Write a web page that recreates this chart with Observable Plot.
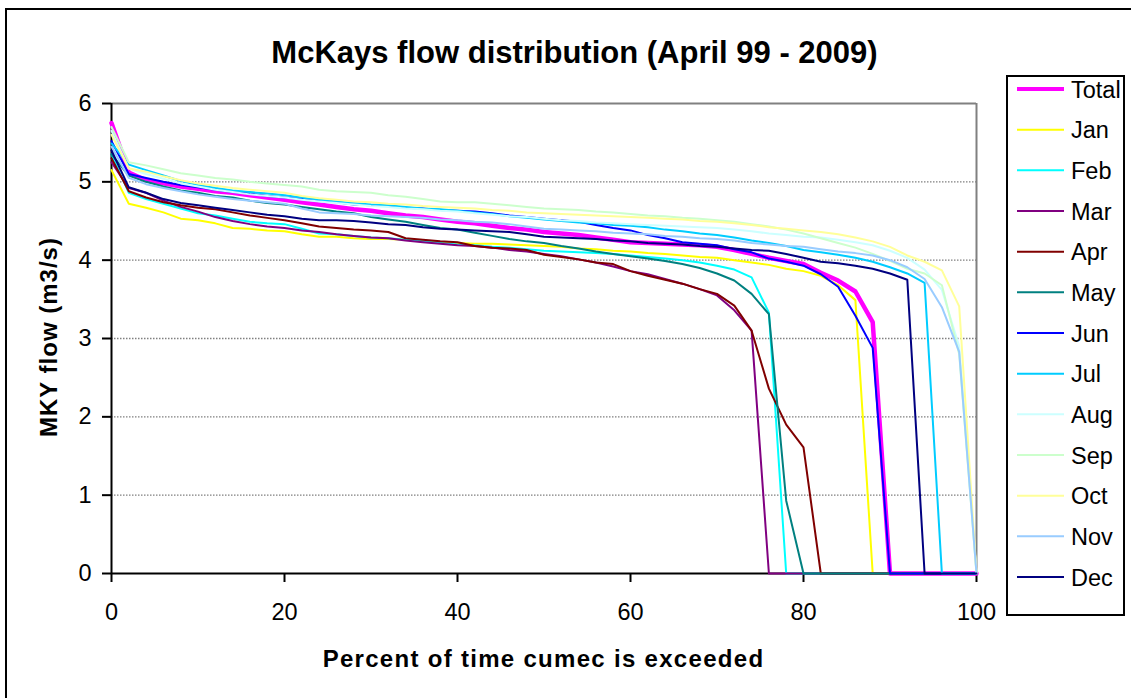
<!DOCTYPE html>
<html>
<head>
<meta charset="utf-8">
<script src="https://cdn.jsdelivr.net/npm/d3@7"></script>
<script src="https://cdn.jsdelivr.net/npm/@observablehq/plot@0.6"></script>
<style>
  html, body { margin: 0; padding: 0; background: #fff; }
  #chart { position: absolute; left: 0; top: 0; }
</style>
</head>
<body>
<div id="chart"></div>
<script>
// ---- data ----
const percent = [0,2,4,6,8,10,12,14,16,18,20,22,24,26,28,30,32,34,36,38,40,42,44,46,48,50,52,54,56,58,60,62,64,66,68,70,72,74,76,78,80,82,84,86,88,90,92,94,96,98,100];

const total = [5.75,5.12,5.02,4.98,4.94,4.91,4.88,4.86,4.83,4.80,4.77,4.74,4.71,4.68,4.65,4.63,4.60,4.57,4.55,4.52,4.49,4.47,4.44,4.41,4.39,4.36,4.34,4.32,4.29,4.26,4.23,4.22,4.21,4.20,4.19,4.17,4.13,4.08,4.03,3.99,3.95,3.84,3.74,3.60,3.21,0,0,0,0,0,0];
const jan = [5.15,4.72,4.67,4.61,4.53,4.51,4.47,4.41,4.40,4.38,4.37,4.33,4.30,4.30,4.28,4.27,4.27,4.26,4.24,4.23,4.22,4.21,4.21,4.20,4.19,4.18,4.17,4.15,4.14,4.12,4.11,4.09,4.08,4.06,4.04,4.03,4.00,3.97,3.94,3.89,3.86,3.80,3.68,3.49,0,0,0,0,0,0,0];
const feb = [5.35,4.86,4.78,4.72,4.66,4.60,4.57,4.53,4.49,4.47,4.46,4.40,4.34,4.33,4.31,4.29,4.28,4.26,4.24,4.22,4.20,4.19,4.17,4.16,4.14,4.12,4.11,4.10,4.09,4.08,4.06,4.04,4.02,4.00,3.97,3.93,3.88,3.78,3.33,0,0,0,0,0,0,0,0,0,0,0,0];
const mar = [5.25,4.92,4.86,4.76,4.68,4.62,4.55,4.50,4.46,4.43,4.41,4.38,4.36,4.33,4.31,4.29,4.28,4.25,4.23,4.21,4.19,4.18,4.16,4.13,4.11,4.08,4.05,4.01,3.97,3.92,3.86,3.82,3.76,3.70,3.63,3.55,3.36,3.10,0,0,0,0,0,0,0,0,0,0,0,0,0];
const apr = [5.30,4.88,4.80,4.74,4.70,4.67,4.65,4.61,4.57,4.54,4.51,4.47,4.43,4.41,4.39,4.38,4.36,4.28,4.26,4.24,4.23,4.18,4.16,4.15,4.13,4.07,4.04,4.01,3.97,3.95,3.86,3.80,3.75,3.70,3.63,3.57,3.42,3.10,2.36,1.90,1.61,0,0,0,0,0,0,0,0,0,0];
const may = [5.35,5.08,5.00,4.94,4.89,4.86,4.82,4.80,4.76,4.73,4.71,4.68,4.65,4.62,4.60,4.55,4.52,4.49,4.45,4.41,4.39,4.35,4.31,4.27,4.24,4.22,4.18,4.15,4.11,4.08,4.05,4.02,3.99,3.95,3.90,3.83,3.74,3.57,3.31,0.93,0,0,0,0,0,0,0,0,0,0,0];
const jun = [5.52,5.10,5.05,5.00,4.96,4.93,4.90,4.87,4.85,4.82,4.80,4.78,4.76,4.74,4.71,4.70,4.69,4.67,4.66,4.64,4.63,4.62,4.60,4.57,4.55,4.53,4.51,4.49,4.45,4.41,4.38,4.32,4.28,4.23,4.21,4.19,4.14,4.10,4.02,3.98,3.93,3.82,3.66,3.29,2.88,0,0,0,0,0,0];
const jul = [5.49,5.22,5.15,5.08,5.01,4.96,4.92,4.89,4.87,4.85,4.83,4.80,4.77,4.75,4.73,4.71,4.70,4.68,4.66,4.65,4.63,4.61,4.59,4.56,4.54,4.52,4.50,4.48,4.47,4.45,4.44,4.42,4.39,4.37,4.34,4.32,4.29,4.25,4.22,4.18,4.13,4.10,4.07,4.03,3.98,3.91,3.83,3.71,0,0,0];
const aug = [5.65,5.17,5.10,5.04,4.98,4.94,4.90,4.87,4.84,4.82,4.80,4.77,4.75,4.73,4.71,4.69,4.68,4.66,4.65,4.63,4.62,4.60,4.58,4.56,4.55,4.53,4.51,4.50,4.48,4.47,4.46,4.45,4.44,4.43,4.42,4.41,4.39,4.37,4.34,4.32,4.30,4.29,4.26,4.23,4.19,4.12,4.03,3.88,3.62,2.90,0];
const sep = [5.70,5.25,5.21,5.16,5.11,5.08,5.05,5.03,5.00,4.98,4.96,4.94,4.90,4.88,4.87,4.86,4.83,4.81,4.78,4.75,4.74,4.74,4.72,4.70,4.68,4.66,4.65,4.64,4.62,4.61,4.59,4.57,4.56,4.54,4.53,4.51,4.49,4.46,4.43,4.39,4.34,4.28,4.22,4.16,4.08,3.99,3.89,3.83,3.68,2.80,0];
const oct = [5.60,5.17,5.13,5.07,5.02,4.98,4.95,4.92,4.90,4.88,4.86,4.82,4.79,4.77,4.75,4.74,4.72,4.71,4.69,4.68,4.67,4.66,4.64,4.63,4.61,4.60,4.59,4.58,4.57,4.56,4.55,4.54,4.53,4.52,4.50,4.49,4.47,4.45,4.42,4.40,4.38,4.36,4.33,4.29,4.24,4.17,4.06,3.98,3.87,3.41,0];
const nov = [5.45,5.05,4.97,4.92,4.88,4.84,4.81,4.78,4.76,4.74,4.72,4.66,4.61,4.60,4.59,4.57,4.56,4.55,4.54,4.52,4.51,4.49,4.48,4.46,4.43,4.40,4.39,4.38,4.37,4.35,4.34,4.33,4.31,4.30,4.28,4.27,4.25,4.22,4.20,4.18,4.17,4.14,4.11,4.09,4.06,4.00,3.91,3.76,3.40,2.83,0];
const dec = [5.40,4.93,4.86,4.78,4.73,4.70,4.67,4.64,4.61,4.58,4.56,4.53,4.51,4.51,4.50,4.48,4.46,4.45,4.42,4.40,4.39,4.38,4.37,4.36,4.33,4.30,4.29,4.28,4.27,4.25,4.24,4.22,4.21,4.20,4.18,4.17,4.15,4.13,4.12,4.08,4.03,3.98,3.96,3.93,3.89,3.83,3.75,0,0,0,0];

const seriesNames = ["Total","Jan","Feb","Mar","Apr","May","Jun","Jul","Aug","Sep","Oct","Nov","Dec"];
const seriesColors = ["#FF00FF","#FFFF00","#00FFFF","#800080","#800000","#008080","#0000FF","#00CCFF","#CCFFFF","#CCFFCC","#FFFF99","#99CCFF","#000080"];
const seriesValues = [total,jan,feb,mar,apr,may,jun,jul,aug,sep,oct,nov,dec];

const xTicks = [0,20,40,60,80,100];
const yTicks = [0,1,2,3,4,5,6];
const gridTicks = [1,2,3,4,5];

const titleText = "McKays flow distribution (April 99 - 2009)";
const xTitle = "Percent of time cumec is exceeded";
const yTitle = "MKY flow (m3/s)";

// ---- build table ----
const rows = seriesNames.flatMap((name, i) =>
  seriesValues[i].map((v, j) => ({series: name, pct: percent[j], flow: v})));

const font = "'Liberation Sans', Arial, Helvetica, sans-serif";

const chart = Plot.plot({
  width: 1131,
  height: 698,
  marginLeft: 111,
  marginRight: 155,
  marginTop: 103,
  marginBottom: 125,
  x: {domain: [0, 100]},
  y: {domain: [0, 6]},
  color: {domain: seriesNames, range: seriesColors},
  style: {fontFamily: font, fontSize: "23.5px", background: "white", color: "black", overflow: "visible"},
  marks: [
    Plot.ruleY(gridTicks, {stroke: "#808080", strokeWidth: 1.3, strokeDasharray: "1.5,1.5"}),
    Plot.ruleY([6], {stroke: "#808080", strokeWidth: 2}),
    Plot.ruleX([100], {stroke: "#808080", strokeWidth: 2}),
    Plot.axisY({ticks: yTicks, tickFormat: d3.format("d"), tickSize: 9, tickPadding: 11, strokeWidth: 2, label: null, fontSize: 23.5, fill: "black"}),
    Plot.axisX({ticks: xTicks, tickFormat: d3.format("d"), tickSize: 9, tickPadding: 21, strokeWidth: 2, label: null, fontSize: 23.5, fill: "black"}),
    Plot.ruleX([0], {stroke: "black", strokeWidth: 2}),
    Plot.ruleY([0], {stroke: "black", strokeWidth: 2}),
    Plot.line(rows.filter(d => d.series === "Total"),
      {x: "pct", y: "flow", stroke: "series", strokeWidth: 4.5, strokeLinejoin: "round"}),
    Plot.line(rows.filter(d => d.series !== "Total"),
      {x: "pct", y: "flow", stroke: "series", z: "series", strokeWidth: 2, strokeLinejoin: "round"})
  ]
});

document.getElementById("chart").appendChild(chart);

const svg = d3.select(chart);

// outer chart border
svg.append("rect")
  .attr("x", 6).attr("y", 9).attr("width", 1200).attr("height", 800)
  .attr("fill", "none").attr("stroke", "black").attr("stroke-width", 2);

// title
svg.append("text")
  .attr("x", 574.5).attr("y", 63)
  .attr("text-anchor", "middle")
  .attr("font-family", font).attr("font-weight", "bold").attr("font-size", 31)
  .attr("fill", "black")
  .text(titleText);

// x-axis title
svg.append("text")
  .attr("x", 543.5).attr("y", 667)
  .attr("text-anchor", "middle")
  .attr("font-family", font).attr("font-weight", "bold").attr("font-size", 24)
  .attr("letter-spacing", "1.3px")
  .attr("fill", "black")
  .text(xTitle);

// y-axis title
svg.append("text")
  .attr("transform", "translate(57,337) rotate(-90)")
  .attr("text-anchor", "middle")
  .attr("font-family", font).attr("font-weight", "bold").attr("font-size", 24)
  .attr("letter-spacing", "1px")
  .attr("fill", "black")
  .text(yTitle);

// legend
const lg = svg.append("g").attr("text-anchor", "start");
lg.append("rect")
  .attr("x", 1007).attr("y", 76).attr("width", 117).attr("height", 539)
  .attr("fill", "white").attr("stroke", "black").attr("stroke-width", 2);
seriesNames.forEach((name, i) => {
  const y = 89 + i * 40.67;
  lg.append("line")
    .attr("x1", 1017).attr("x2", 1064).attr("y1", y).attr("y2", y)
    .attr("stroke", seriesColors[i]).attr("stroke-width", name === "Total" ? 4 : 2);
  lg.append("text")
    .attr("x", 1071).attr("y", y + 8.5)
    .attr("text-anchor", "start")
    .attr("font-family", font).attr("font-size", 23.5).attr("fill", "black")
    .text(name);
});
</script>
</body>
</html>
